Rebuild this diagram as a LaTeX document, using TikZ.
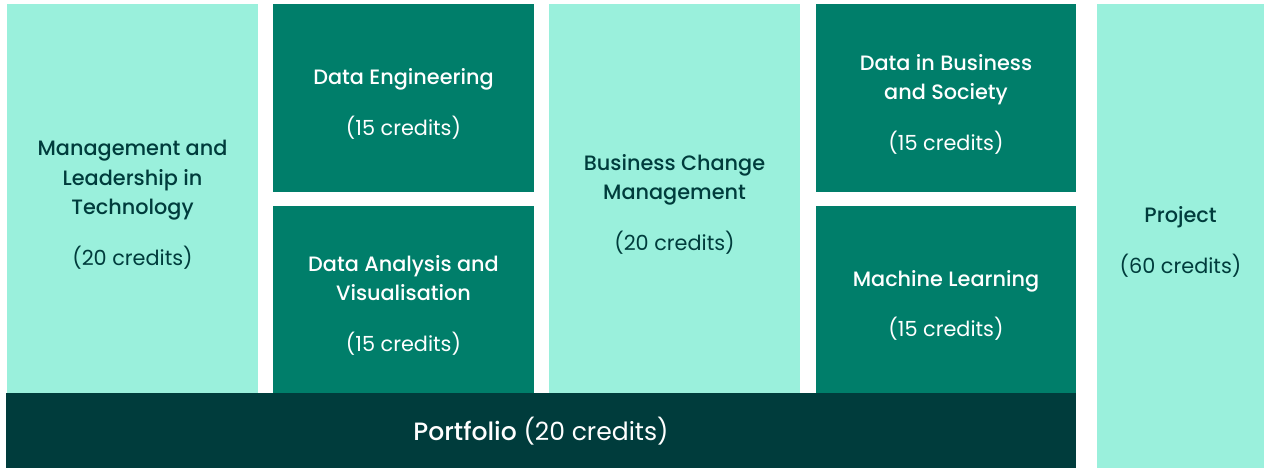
\documentclass[tikz,border=0pt]{standalone}
\usepackage{fontspec}
\setmainfont{Poppins}[BoldFont={Poppins Medium}]
\usetikzlibrary{positioning}

\definecolor{mint}{HTML}{9AF0DC}
\definecolor{teal}{HTML}{007E6A}
\definecolor{deep}{HTML}{003C3C}
\newcommand\lift{\rule{0pt}{18pt}}

\begin{document}
\begin{tikzpicture}[x=0.75pt, y=-0.75pt,
    module/.style={rectangle, inner sep=0pt, outer sep=0pt, anchor=north west,
        align=center, font=\fontsize{15.6}{22}\selectfont, text depth=0pt},
    core/.style={module, fill=mint, text=deep},
    option/.style={module, fill=teal, text=white}]
          \useasboundingbox (0,0) rectangle (1264,468);
          % columns
          \node (mlt) [core, minimum width=251*0.75pt, minimum height=389*0.75pt] at (7,4)
              {\lift\textbf{Management and}\\ \textbf{Leadership in}\\ \textbf{Technology}\\[16pt] (20 credits)};
          \node (de) [option, minimum width=261*0.75pt, minimum height=188*0.75pt] at (273,4)
              {\lift\textbf{Data Engineering}\\[16pt] (15 credits)};
          \node (dav) [option, minimum width=261*0.75pt, minimum height=187*0.75pt,
              below=10.5pt of de.south west, anchor=north west]
              {\lift\textbf{Data Analysis and}\\ \textbf{Visualisation}\\[16pt] (15 credits)};
          \node (bcm) [core, minimum width=251*0.75pt, minimum height=389*0.75pt] at (549,4)
              {\lift\textbf{Business Change}\\ \textbf{Management}\\[16pt] (20 credits)};
          \node (dbs) [option, minimum width=260*0.75pt, minimum height=188*0.75pt] at (816,4)
              {\lift\textbf{Data in Business}\\ \textbf{and Society}\\[16pt] (15 credits)};
          \node (ml) [option, minimum width=260*0.75pt, minimum height=187*0.75pt,
              below=10.5pt of dbs.south west, anchor=north west]
              {\lift\textbf{Machine Learning}\\[16pt] (15 credits)};
          \node (proj) [core, minimum width=167*0.75pt, minimum height=464*0.75pt] at (1097,4)
              {\lift\textbf{Project}\\[16pt] (60 credits)};
          % bottom band
          \node (port) [module, fill=deep, text=white, minimum width=1070*0.75pt,
              minimum height=75*0.75pt, font=\fontsize{18.8}{24}\selectfont,
              text depth=2pt] at (6,393)
              {\textbf{Portfolio} (20 credits)};
      \end{tikzpicture}
\end{document}
